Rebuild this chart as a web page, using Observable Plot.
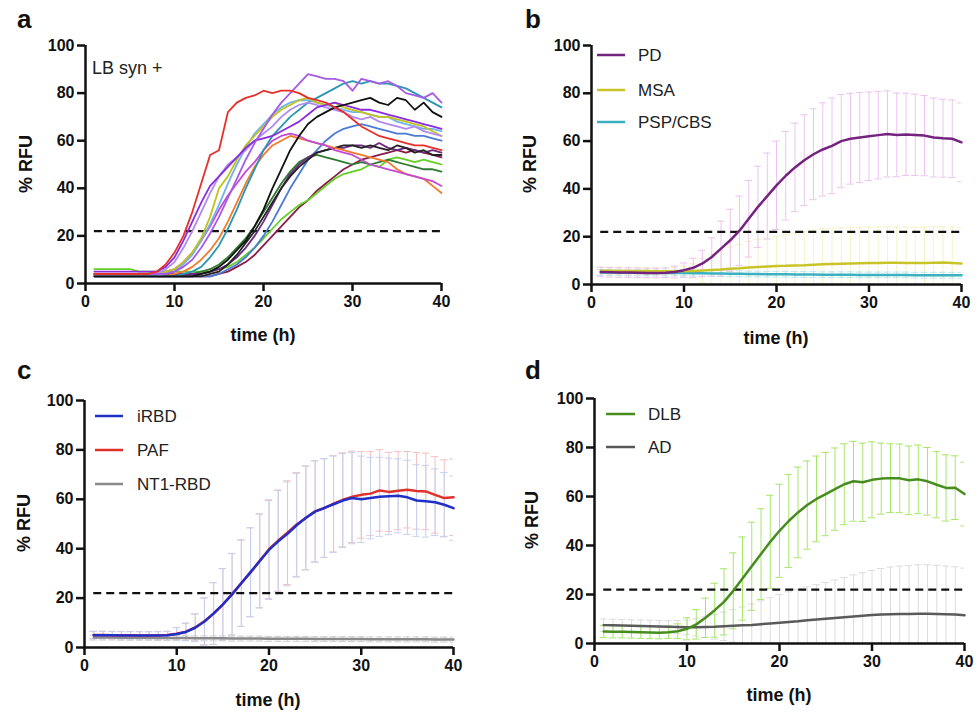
<!DOCTYPE html>
<html><head><meta charset="utf-8">
<script src="https://cdn.jsdelivr.net/npm/d3@7"></script>
<script src="https://cdn.jsdelivr.net/npm/@observablehq/plot@0.6"></script>
<style>
body{margin:0;background:#fff;font-family:'Liberation Sans',Arial,sans-serif;}
#fig{position:relative;width:976px;height:712px;overflow:hidden;background:#fff;}
.panel{position:absolute;}
#overlay{position:absolute;left:0;top:0;pointer-events:none;}
</style></head><body><div id="fig"></div>
<script>
// ---------- shared ----------
const hours = [1,2,3,4,5,6,7,8,9,10,11,12,13,14,15,16,17,18,19,20,21,22,23,24,25,26,27,28,29,30,31,32,33,34,35,36,37,38,39,40];
const threshold = 22;
const xTicks = [0,10,20,30,40];
const yTicks = [0,20,40,60,80,100];
const xLabel = "time (h)";
const yLabel = "% RFU";

// ---------- panel a : individual LB syn + samples ----------
const aRed      = [4,4,4,4,4,4,4,5,8,13,20,30,42,54,56,72,76,78,79,81,80,81,81,80,78,77,76,74,72,69,66,64,62,61,60,59,58,58,57,56];
const aViolet   = [5,5,5,5,5,5,5,5,7,11,18,26,34,41,45,49,53,57,60,61,62,64,66,68,71,74,75,76,75,74,73,73,72,71,70,69,68,67,66,65];
const aLavender = [4,4,4,4,4,4,4,4,6,9,15,22,30,38,45,50,53,56,60,63,66,70,73,75,76,75,74,73,72,70,69,70,68,67,66,65,66,64,63,62];
const aYellow   = [4,4,4,4,4,4,4,4,5,6,9,13,19,28,40,45,52,58,62,66,70,73,75,77,78,76,75,76,74,73,72,71,70,70,69,68,67,66,64,62];
const aLightBlue= [3,3,3,3,3,3,3,3,4,5,8,12,18,25,33,42,50,57,63,67,71,74,76,77,77,76,75,74,73,72,72,71,70,70,68,67,66,65,65,64];
const aMagenta  = [4,4,4,4,4,4,4,4,5,6,9,13,18,24,31,37,42,47,51,56,60,62,63,62,60,59,58,56,55,54,52,50,49,48,47,46,45,44,43,41];
const aOrange   = [3,3,3,3,3,3,3,3,3,4,5,7,10,14,19,26,34,42,49,54,58,60,62,61,60,59,58,57,56,55,54,53,52,51,48,46,45,44,41,38];
const aTeal     = [3,3,3,3,3,3,3,3,3,3,4,5,7,11,16,23,31,40,48,56,62,66,70,73,76,78,80,82,84,85,84,85,84,84,83,82,80,78,76,74];
const aPurpleTop= [4,4,4,4,4,4,4,4,4,5,7,10,15,21,28,36,44,52,59,65,71,76,80,84,88,87,86,86,85,81,86,85,84,85,83,80,79,78,80,76];
const aBlack1   = [3,3,3,3,3,3,3,3,3,3,3,3,4,5,7,10,14,18,24,31,40,48,56,62,67,70,72,74,75,76,77,78,76,75,78,77,73,76,72,70];
const aBlack2   = [3,3,3,3,3,3,3,3,3,3,3,3,3,4,5,8,12,17,22,28,34,40,45,49,52,55,56,57,58,58,57,58,57,56,58,57,55,56,54,54];
const aDarkGreen= [4,4,4,4,4,4,4,4,4,4,4,4,5,6,8,11,15,19,24,30,36,42,47,51,53,54,53,52,51,50,51,50,51,52,51,50,49,48,48,47];
const aGreen    = [6,6,6,6,6,5,5,5,5,5,5,5,5,5,6,7,9,12,15,19,23,27,30,33,35,38,41,44,46,47,48,50,49,52,53,52,51,52,51,50];
const aMaroon   = [3,3,3,3,3,3,3,3,3,3,3,3,3,3,4,5,7,9,12,16,20,24,28,32,35,39,42,45,48,50,52,53,54,55,56,55,56,55,54,53];
const aBlue     = [3,3,3,3,3,3,3,3,3,3,3,3,3,3,4,6,8,11,15,20,26,33,40,46,52,56,60,63,65,66,67,66,65,64,63,63,62,62,61,60];
const aPlum     = [4,4,4,4,4,4,4,4,4,4,4,4,4,5,6,8,11,15,20,26,33,40,46,50,53,55,56,57,57,58,58,57,59,57,56,57,56,55,56,55];
const aCurves = [aMaroon, aGreen, aDarkGreen, aBlue, aPlum, aBlack2, aOrange, aMagenta, aTeal, aLightBlue, aYellow, aLavender, aViolet, aPurpleTop, aBlack1, aRed];
const aColors = ["#8a1c4a","#62d024","#2e7a30","#4c7ad8","#6e2a80","#222222","#f27a2e","#c44ad4","#2a97b2","#70b4ec","#c2c21c","#b08af0","#8a2be2","#a65ae6","#111111","#e8302a"];
const aNote = "LB syn +";

// ---------- panel b ----------
const bNames = ["PD","MSA","PSP/CBS"];
const pdMean  = [5.2,5.1,5.0,5.0,4.9,4.8,4.8,4.9,5.2,6.0,7.0,8.8,11.5,15,18.5,22.5,27.5,32.5,37,41.5,45.5,49,52,54.5,56.5,58,60,61,61.5,62,62.5,63,62.6,62.8,62.6,62.3,61.5,61.2,61.0,59.5];
const pdSD    = [2,2,2,2,2,2,2,2,2.5,3,4,5.5,8,11.5,13,14.5,16,17,18,18.5,18.5,18.5,19,19,19.5,20,19.5,19,18.8,18.5,18.3,18,17.5,17.2,17,16.8,16.5,16.3,16.2,16.5];
const msaMean = [5.8,5.8,5.7,5.7,5.6,5.6,5.5,5.5,5.5,5.6,5.7,5.9,6.1,6.3,6.6,6.8,7.1,7.3,7.5,7.7,7.8,8.0,8.1,8.3,8.5,8.6,8.7,8.8,8.9,9.0,9.0,9.1,9.1,9.0,9.0,9.0,9.1,9.2,9.0,8.8];
const msaSD   = [1.5,1.5,1.5,1.5,1.5,1.5,1.5,1.5,1.6,2,3,5,6.5,8,9,10,11,11.5,12,12.5,13,13.5,14,14.5,15,15,15,15,15,15,15,15,15,15,15,15,15,15,15,15];
const pspMean = [5.0,5.0,4.9,4.9,4.9,4.8,4.8,4.8,4.8,4.8,4.7,4.7,4.6,4.6,4.5,4.5,4.4,4.4,4.3,4.3,4.3,4.2,4.2,4.2,4.1,4.1,4.1,4.1,4.0,4.0,4.0,4.0,4.0,4.0,3.9,3.9,3.9,3.9,3.9,3.9];
const pspSD   = [1.2,1.2,1.2,1.2,1.2,1.2,1.2,1.2,1.2,1.2,1.2,1.2,1.2,1.2,1.2,1.2,1.2,1.2,1.2,1.2,1.2,1.2,1.2,1.2,1.2,1.2,1.2,1.2,1.2,1.2,1.2,1.2,1.2,1.2,1.2,1.2,1.2,1.2,1.2,1.2];

// ---------- panel c ----------
const cNames = ["iRBD","PAF","NT1-RBD"];
const irbdMean = [5.0,5.0,5.0,4.9,4.9,4.9,4.9,4.9,5.0,5.5,6.3,8,10.5,13.8,17.5,21.5,26,30.5,35,39.5,43,46,49.5,52.5,55,56.5,58,59.5,60.5,60,60.5,61,61.2,61.4,60.8,59.5,59.2,58.8,57.8,56.4];
const irbdSD   = [1.5,1.5,1.5,1.5,1.5,1.5,1.5,1.5,1.5,2.5,3.5,5.5,9.5,12.5,14.5,16.5,17.5,18,19,20,20.5,21,21,21,20.5,20,19.5,19,18.5,17.5,16.5,16,15.5,15,15,14.5,14.5,13.5,13,13];
const pafMean  = [5.1,5.1,5.0,5.0,5.0,4.9,4.9,5.0,5.1,5.6,6.4,8.1,10.6,13.7,17.4,21.6,26.1,30.4,35.1,39.8,43.3,46.5,49.8,52.4,55.2,56.4,58.2,59.8,61,61.8,62.3,63.6,63,63.5,63.9,63.4,63.2,61.8,60.5,60.8];
const pafSD    = [1.5,1.5,1.5,1.5,1.5,1.5,1.5,1.5,1.5,2.5,3.5,5.5,9.5,12.5,14.5,16.5,17.5,18,19,20,20.5,21,21,21,20.5,20,19.5,19,18.5,17.5,17,16.5,16,15.8,15.5,15.5,15.5,15.5,15.5,15.5];
const nt1Mean  = [4.0,4.0,4.0,3.9,3.9,3.9,3.9,3.8,3.8,3.8,3.8,3.7,3.7,3.7,3.7,3.6,3.6,3.6,3.6,3.5,3.5,3.5,3.5,3.5,3.4,3.4,3.4,3.4,3.4,3.4,3.3,3.3,3.3,3.3,3.3,3.3,3.3,3.2,3.2,3.2];
const nt1SD    = [1,1,1,1,1,1,1,1,1,1,1,1,1,1,1,1,1,1,1,1,1,1,1,1,1,1,1,1,1,1,1,1,1,1,1,1,1,1,1,1];

// ---------- panel d ----------
const dNames = ["DLB","AD"];
const dlbMean = [4.9,4.8,4.8,4.7,4.6,4.5,4.4,4.6,5.0,6.0,7.8,10.5,13.6,17,21.5,26.5,31.5,36.5,41.5,46,50,53.5,56.5,59,61,63,65,66.2,65.8,66.8,67.3,67.5,67.4,66.6,67,66.2,64.8,63.5,63.6,61];
const dlbSD   = [2.5,2.5,2.5,2.5,2.5,2.5,2.5,2.5,3,4.5,6,8,11,13.5,15.5,17,18,18.5,19,19,19,18.5,18,17.5,17,16.8,16.5,16.3,16,15.5,14.5,14,14,14,14,13.8,13.5,13.5,13,13];
const adMean  = [7.5,7.4,7.3,7.2,7.1,7.0,6.9,6.8,6.7,6.6,6.6,6.7,6.8,7.0,7.2,7.4,7.6,7.9,8.2,8.5,8.8,9.1,9.5,9.8,10.1,10.4,10.7,11.0,11.3,11.6,11.8,11.9,12.0,12.0,12.1,12.1,12.0,11.9,11.8,11.5];
const adSD    = [2.5,2.5,2.5,2.5,2.5,2.5,2.5,2.5,2.7,3,3.5,4.2,5,5.8,6.6,7.5,8.5,9.5,10.5,11.5,12.3,13,13.6,14.2,14.8,15.5,16.2,17,17.6,18.2,18.8,19.3,19.6,19.8,20,20,19.9,19.7,19.5,19.3];

// ---------- helpers ----------
const FONT = "'Liberation Sans', Arial, Helvetica, sans-serif";
function rows(vals, sds) { return hours.map((t, i) => ({t, v: vals[i], sd: sds ? sds[i] : 0})); }
function errMarks(r, color) {
  return [
    Plot.ruleX(r, {x: "t", y1: d => d.v - d.sd, y2: d => d.v + d.sd, stroke: color, strokeWidth: 1, clip: true}),
    Plot.ruleY(r, {y: d => d.v + d.sd, x1: d => d.t - 0.4, x2: d => d.t + 0.4, stroke: color, strokeWidth: 1, clip: true}),
    Plot.ruleY(r, {y: d => d.v - d.sd, x1: d => d.t - 0.4, x2: d => d.t + 0.4, stroke: color, strokeWidth: 1, clip: true})
  ];
}
function meanLine(r, color, w) { return Plot.line(r, {x: "t", y: "v", stroke: color, strokeWidth: w || 2.5}); }

function panel(dims, backMarks, frontMarks) {
  const p = Plot.plot({
    width: dims.w, height: dims.h,
    marginLeft: dims.ml, marginRight: dims.mr, marginTop: dims.mt, marginBottom: dims.mb,
    x: {domain: [0, 40]}, y: {domain: [0, 100]},
    style: {fontFamily: FONT, background: "transparent", overflow: "visible", color: "#111"},
    marks: [
      ...backMarks,
      Plot.ruleY([threshold], {x1: hours[0], x2: hours[hours.length - 1], stroke: "#111", strokeWidth: 2.2, strokeDasharray: "8,5"}),
      ...frontMarks,
      Plot.ruleX([0], {stroke: "#111", strokeWidth: 2.5}),
      Plot.ruleY([0], {stroke: "#111", strokeWidth: 2.5}),
      Plot.axisX({ticks: xTicks, tickSize: 8, tickPadding: 4, strokeWidth: 2.5, fontSize: 16, fontWeight: "bold", label: null}),
      Plot.axisY({ticks: yTicks, tickSize: 8, tickPadding: 3, strokeWidth: 2.5, fontSize: 16, fontWeight: "bold", label: null})
    ]
  });
  const div = document.createElement("div");
  div.className = "panel";
  div.style.left = dims.left + "px";
  div.style.top = dims.top + "px";
  div.appendChild(p);
  document.getElementById("fig").appendChild(div);
}

// panel a
panel({left: 0, top: 0, w: 476, h: 356, ml: 85, mr: 35, mt: 45, mb: 73}, [],
  aCurves.map((c, i) => meanLine(rows(c), aColors[i], 1.8)));

// panel b
const bColors = ["#74237f", "#c8c428", "#3bb0c0"];
const bErr = ["#ecc4ef", "#f3f3c4", "#bfe6ea"];
const bRows = [rows(pdMean, pdSD), rows(msaMean, msaSD), rows(pspMean, pspSD)];
panel({left: 488, top: 0, w: 488, h: 356, ml: 103, mr: 15, mt: 45, mb: 72},
  [...errMarks(bRows[1], bErr[1]), ...errMarks(bRows[2], bErr[2]), ...errMarks(bRows[0], bErr[0])],
  [meanLine(bRows[2], bColors[2]), meanLine(bRows[1], bColors[1]), meanLine(bRows[0], bColors[0])]);

// panel c
const cColors = ["#1f2fc8", "#e0302a", "#8a8a8a"];
const cErr = ["#c4d0f0", "#f6c0c0", "#cfcfcf"];
const cRows = [rows(irbdMean, irbdSD), rows(pafMean, pafSD), rows(nt1Mean, nt1SD)];
panel({left: 0, top: 356, w: 476, h: 356, ml: 84, mr: 23, mt: 44, mb: 65},
  [...errMarks(cRows[2], cErr[2]), ...errMarks(cRows[1], cErr[1]), ...errMarks(cRows[0], cErr[0])],
  [meanLine(cRows[2], cColors[2]), meanLine(cRows[1], cColors[1]), meanLine(cRows[0], cColors[0])]);

// panel d
const dColors = ["#468c1e", "#5a5a5a"];
const dErr = ["#a6e66a", "#dcdcdc"];
const dRows = [rows(dlbMean, dlbSD), rows(adMean, adSD)];
panel({left: 488, top: 356, w: 488, h: 356, ml: 106, mr: 12, mt: 42, mb: 69},
  [...errMarks(dRows[1], dErr[1]), ...errMarks(dRows[0], dErr[0])],
  [meanLine(dRows[1], dColors[1]), meanLine(dRows[0], dColors[0])]);

// ---------- overlay text: panel letters, axis titles, legends ----------
const ns = "http://www.w3.org/2000/svg";
const ov = document.createElementNS(ns, "svg");
ov.setAttribute("id", "overlay"); ov.setAttribute("width", 976); ov.setAttribute("height", 712);
ov.setAttribute("font-family", FONT);
function txt(s, x, y, opts) {
  const t = document.createElementNS(ns, "text");
  t.textContent = s;
  t.setAttribute("x", x); t.setAttribute("y", y);
  for (const k in opts) t.setAttribute(k, opts[k]);
  ov.appendChild(t);
}
function swatch(x1, x2, y, color) {
  const l = document.createElementNS(ns, "line");
  l.setAttribute("x1", x1); l.setAttribute("x2", x2); l.setAttribute("y1", y); l.setAttribute("y2", y);
  l.setAttribute("stroke", color); l.setAttribute("stroke-width", 2.5);
  ov.appendChild(l);
}
const letterStyle = {"font-size": 26, "font-weight": "bold", fill: "#111"};
txt("a", 17, 28, letterStyle); txt("b", 525, 28, letterStyle);
txt("c", 17, 379, letterStyle); txt("d", 525, 379, letterStyle);
const ttl = {"font-size": 18, "font-weight": "bold", fill: "#111", "text-anchor": "middle"};
[[32,164],[536,164],[30,523],[538,520]].forEach(([x, y]) =>
  txt(yLabel, 0, 0, {...ttl, transform: `translate(${x},${y}) rotate(-90)`}));
[[263,341],[776,344],[268,706],[779,701]].forEach(([x, y]) => txt(xLabel, x, y, ttl));
txt(aNote, 92, 74, {"font-size": 18, fill: "#222"});
const leg = {"font-size": 17, fill: "#222"};
[55, 90, 122].forEach((y, i) => { swatch(597, 625, y, bColors[i]); txt(bNames[i], 638, y + 6, leg); });
[416, 450, 484].forEach((y, i) => { swatch(95, 123, y, cColors[i]); txt(cNames[i], 137, y + 6, leg); });
[414, 447].forEach((y, i) => { swatch(606, 635, y, dColors[i]); txt(dNames[i], 648, y + 6, leg); });
document.getElementById("fig").appendChild(ov);
</script></body></html>
